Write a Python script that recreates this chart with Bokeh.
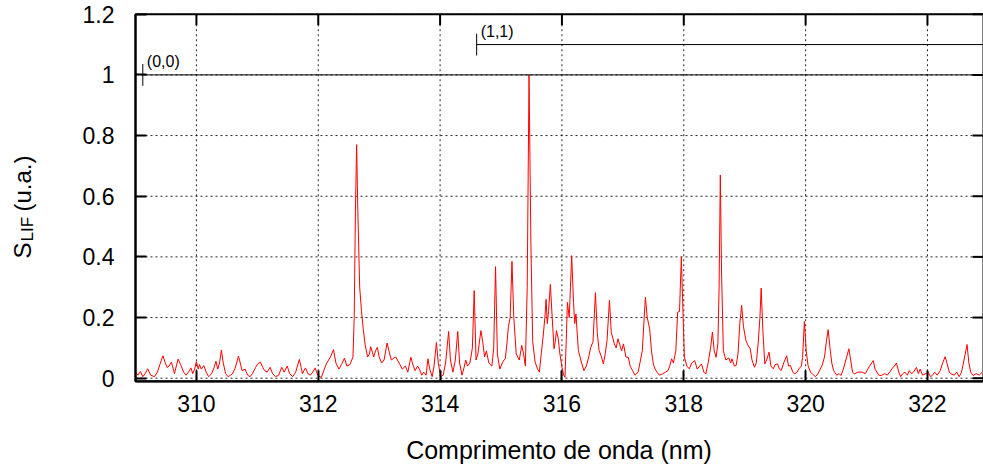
import math
from bokeh.plotting import figure
from bokeh.models import Range1d, FixedTicker, ColumnDataSource, Label, LinearAxis
from bokeh.embed import file_html
from bokeh.resources import INLINE
from bokeh.core.properties import value

# ---- data ----
wavelength = [
    309.00, 309.04, 309.08, 309.12, 309.16, 309.20, 309.25, 309.31, 309.36, 309.40,
    309.45, 309.49, 309.52, 309.55, 309.59, 309.62, 309.64, 309.67, 309.70, 309.74,
    309.79, 309.83, 309.87, 309.91, 309.94, 309.97, 310.00, 310.03, 310.05, 310.08,
    310.12, 310.16, 310.20, 310.25, 310.29, 310.32, 310.35, 310.38, 310.41, 310.44,
    310.48, 310.52, 310.56, 310.59, 310.63, 310.66, 310.69, 310.72, 310.75, 310.80,
    310.84, 310.88, 310.92, 310.97, 311.01, 311.05, 311.09, 311.12, 311.16, 311.21,
    311.25, 311.30, 311.35, 311.40, 311.44, 311.49, 311.53, 311.58, 311.63, 311.69,
    311.72, 311.74, 311.79, 311.83, 311.87, 311.91, 311.95, 311.99, 312.05, 312.10,
    312.14, 312.20, 312.25, 312.29, 312.34, 312.38, 312.43, 312.47, 312.52, 312.57,
    312.59, 312.61, 312.63, 312.65, 312.68, 312.71, 312.74, 312.77, 312.81, 312.84,
    312.86, 312.89, 312.91, 312.94, 312.97, 313.00, 313.04, 313.08, 313.13, 313.16,
    313.20, 313.23, 313.27, 313.30, 313.34, 313.38, 313.43, 313.47, 313.52, 313.56,
    313.59, 313.63, 313.66, 313.70, 313.73, 313.77, 313.80, 313.83, 313.87, 313.90,
    313.94, 313.97, 314.01, 314.05, 314.09, 314.14, 314.17, 314.21, 314.25, 314.29,
    314.32, 314.36, 314.40, 314.42, 314.45, 314.49, 314.53, 314.56, 314.59, 314.62,
    314.67, 314.70, 314.73, 314.76, 314.80, 314.85, 314.88, 314.91, 314.94, 314.98,
    315.02, 315.05, 315.07, 315.10, 315.12, 315.15, 315.18, 315.21, 315.25, 315.30,
    315.34, 315.37, 315.40, 315.43, 315.46, 315.49, 315.52, 315.56, 315.60, 315.63,
    315.66, 315.69, 315.72, 315.74, 315.76, 315.78, 315.81, 315.84, 315.87, 315.89,
    315.91, 315.94, 315.96, 316.00, 316.03, 316.05, 316.07, 316.09, 316.12, 316.14,
    316.16, 316.19, 316.21, 316.23, 316.27, 316.31, 316.36, 316.40, 316.44, 316.47,
    316.51, 316.55, 316.58, 316.61, 316.65, 316.68, 316.71, 316.74, 316.78, 316.81,
    316.84, 316.86, 316.89, 316.92, 316.95, 316.98, 317.01, 317.05, 317.09, 317.12,
    317.16, 317.20, 317.25, 317.28, 317.32, 317.35, 317.37, 317.40, 317.44, 317.47,
    317.50, 317.53, 317.56, 317.60, 317.65, 317.70, 317.74, 317.77, 317.80, 317.83,
    317.87, 317.90, 317.93, 317.96, 317.99, 318.01, 318.05, 318.09, 318.13, 318.18,
    318.22, 318.26, 318.29, 318.33, 318.36, 318.40, 318.44, 318.47, 318.50, 318.53,
    318.56, 318.58, 318.60, 318.62, 318.65, 318.69, 318.74, 318.77, 318.79, 318.83,
    318.86, 318.89, 318.92, 318.95, 318.98, 319.02, 319.05, 319.09, 319.12, 319.16,
    319.19, 319.22, 319.25, 319.27, 319.30, 319.33, 319.36, 319.40, 319.43, 319.47,
    319.50, 319.54, 319.57, 319.60, 319.64, 319.69, 319.72, 319.75, 319.79, 319.82,
    319.86, 319.89, 319.93, 319.95, 319.98, 320.01, 320.04, 320.08, 320.11, 320.16,
    320.20, 320.24, 320.27, 320.31, 320.34, 320.37, 320.40, 320.43, 320.46, 320.51,
    320.55, 320.58, 320.62, 320.66, 320.71, 320.74, 320.77, 320.80, 320.86, 320.93,
    320.98, 321.02, 321.05, 321.11, 321.14, 321.17, 321.20, 321.24, 321.30, 321.34,
    321.38, 321.43, 321.46, 321.49, 321.53, 321.56, 321.59, 321.63, 321.67, 321.70,
    321.74, 321.77, 321.82, 321.85, 321.88, 321.92, 321.96, 322.01, 322.05, 322.08,
    322.12, 322.16, 322.21, 322.25, 322.29, 322.32, 322.36, 322.39, 322.44, 322.48,
    322.52, 322.56, 322.59, 322.62, 322.65, 322.68, 322.71, 322.75, 322.80, 322.85,
    322.90,
]
intensity = [
    0.020, 0.010, 0.022, 0.005, 0.015, 0.031, 0.010, 0.005, 0.020, 0.045,
    0.074, 0.050, 0.035, 0.040, 0.053, 0.030, 0.015, 0.040, 0.063, 0.045,
    0.020, 0.010, 0.020, 0.034, 0.015, 0.030, 0.055, 0.030, 0.045, 0.030,
    0.042, 0.020, 0.005, 0.015, 0.035, 0.056, 0.030, 0.050, 0.093, 0.050,
    0.015, 0.005, 0.010, 0.014, 0.030, 0.050, 0.073, 0.050, 0.025, 0.030,
    0.010, 0.005, 0.015, 0.035, 0.048, 0.053, 0.035, 0.025, 0.020, 0.036,
    0.015, 0.005, 0.010, 0.036, 0.020, 0.040, 0.015, 0.005, 0.020, 0.062,
    0.035, 0.015, 0.034, 0.015, 0.010, 0.020, 0.034, 0.010, 0.002, 0.030,
    0.050, 0.070, 0.094, 0.050, 0.030, 0.045, 0.066, 0.040, 0.045, 0.070,
    0.200, 0.550, 0.770, 0.550, 0.300, 0.220, 0.160, 0.110, 0.070, 0.080,
    0.104, 0.085, 0.070, 0.090, 0.102, 0.070, 0.050, 0.060, 0.116, 0.090,
    0.060, 0.065, 0.070, 0.060, 0.045, 0.030, 0.040, 0.020, 0.069, 0.040,
    0.025, 0.040, 0.030, 0.010, 0.020, 0.010, 0.064, 0.030, 0.005, 0.040,
    0.118, 0.050, 0.005, 0.010, 0.050, 0.154, 0.060, 0.020, 0.060, 0.154,
    0.050, 0.010, 0.040, 0.060, 0.040, 0.050, 0.100, 0.289, 0.060, 0.080,
    0.157, 0.120, 0.070, 0.090, 0.050, 0.040, 0.100, 0.368, 0.080, 0.030,
    0.050, 0.060, 0.064, 0.120, 0.168, 0.200, 0.385, 0.200, 0.080, 0.060,
    0.108, 0.080, 0.040, 0.300, 1.000, 0.450, 0.120, 0.053, 0.030, 0.020,
    0.080, 0.135, 0.200, 0.260, 0.180, 0.220, 0.309, 0.200, 0.097, 0.120,
    0.157, 0.130, 0.090, 0.036, 0.010, 0.003, 0.120, 0.250, 0.200, 0.300,
    0.404, 0.250, 0.180, 0.212, 0.091, 0.060, 0.025, 0.040, 0.070, 0.100,
    0.120, 0.282, 0.150, 0.091, 0.070, 0.047, 0.080, 0.124, 0.257, 0.150,
    0.130, 0.113, 0.100, 0.130, 0.110, 0.090, 0.113, 0.070, 0.069, 0.040,
    0.025, 0.010, 0.020, 0.050, 0.091, 0.200, 0.267, 0.200, 0.163, 0.090,
    0.047, 0.030, 0.020, 0.010, 0.014, 0.020, 0.025, 0.040, 0.064, 0.050,
    0.091, 0.218, 0.220, 0.399, 0.200, 0.069, 0.040, 0.031, 0.050, 0.058,
    0.030, 0.040, 0.047, 0.020, 0.014, 0.050, 0.100, 0.152, 0.090, 0.069,
    0.113, 0.300, 0.670, 0.350, 0.091, 0.060, 0.067, 0.050, 0.064, 0.040,
    0.042, 0.080, 0.180, 0.240, 0.170, 0.124, 0.110, 0.097, 0.060, 0.036,
    0.050, 0.113, 0.200, 0.297, 0.150, 0.047, 0.060, 0.086, 0.040, 0.031,
    0.045, 0.047, 0.030, 0.025, 0.050, 0.074, 0.040, 0.042, 0.020, 0.014,
    0.020, 0.031, 0.040, 0.069, 0.187, 0.090, 0.042, 0.020, 0.014, 0.005,
    0.014, 0.030, 0.042, 0.070, 0.120, 0.160, 0.100, 0.050, 0.025, 0.010,
    0.015, 0.009, 0.030, 0.060, 0.097, 0.060, 0.020, 0.014, 0.020, 0.020,
    0.015, 0.030, 0.040, 0.058, 0.030, 0.020, 0.010, 0.009, 0.015, 0.010,
    0.020, 0.035, 0.040, 0.050, 0.020, 0.005, 0.014, 0.020, 0.010, 0.025,
    0.015, 0.020, 0.036, 0.015, 0.030, 0.010, 0.014, 0.020, 0.005, 0.009,
    0.020, 0.010, 0.025, 0.050, 0.071, 0.050, 0.020, 0.014, 0.010, 0.020,
    0.005, 0.020, 0.050, 0.080, 0.111, 0.050, 0.020, 0.009, 0.015, 0.010,
    0.020,
]

x_ticks = [310, 312, 314, 316, 318, 320, 322]
y_ticks = [0.0, 0.2, 0.4, 0.6, 0.8, 1.0, 1.2]
y_tick_labels = ["0", "0.2", "0.4", "0.6", "0.8", "1", "1.2"]

band_labels = ["(0,0)", "(1,1)"]
band_start = [309.12, 314.60]
band_level = [1.0, 1.1]
band_tick = 0.036

x_min, x_max = 309.0, 322.92
y_min, y_max = -0.01, 1.2

x_title = "Comprimento de onda (nm)"
y_title_main = "S"
y_title_sub = "LIF"
y_title_rest = "(u.a.)"

FONT = "Liberation Sans"
TICK_FS = "23px"

# ---- page geometry: the frame covers the whole page, the box is drawn inside ----
W, H = 983, 469
AXIS_X = 135          # page x of the left border (x = x_min)
Y0_PAGE = 377.7       # page y of the value 0
PX_UNIT = 303.3       # pixels per intensity unit
px_per_nm = (W - AXIS_X) / (x_max - x_min)
x_left = x_min - AXIS_X / px_per_nm
y_page_top = Y0_PAGE / PX_UNIT
y_page_bottom = -(H - Y0_PAGE) / PX_UNIT

def page_x(px):
    return x_left + px / px_per_nm

def page_y(py):
    return (Y0_PAGE - py) / PX_UNIT

p = figure(width=W, height=H, output_backend="svg", toolbar_location=None,
           x_range=Range1d(x_left, x_max), y_range=Range1d(y_page_bottom, y_page_top),
           x_axis_location=None, y_axis_location=None,
           min_border_left=0, min_border_right=0, min_border_top=0, min_border_bottom=0)
p.background_fill_color = "white"
p.border_fill_color = "white"
p.outline_line_color = None
p.grid.visible = False

# dotted grid restricted to the plotting box
p.segment(x0=x_ticks, y0=[y_min] * len(x_ticks), x1=x_ticks, y1=[y_max] * len(x_ticks),
          line_color="black", line_dash="2 3", line_width=1, line_alpha=0.85)
p.segment(x0=[x_min] * len(y_ticks), y0=y_ticks, x1=[x_max] * len(y_ticks), y1=y_ticks,
          line_color="black", line_dash="2 3", line_width=1, line_alpha=0.85)

def style_axis(ax):
    ax.major_tick_in = 11
    ax.major_tick_out = 0
    ax.minor_tick_in = 0
    ax.minor_tick_out = 0
    ax.major_tick_line_width = 2
    ax.major_tick_line_color = "black"
    ax.axis_line_color = "black"
    ax.axis_line_width = 2
    ax.major_label_text_font = FONT
    ax.major_label_text_font_size = TICK_FS
    ax.major_label_text_color = "black"

xa = LinearAxis(ticker=FixedTicker(ticks=x_ticks), fixed_location=y_min,
                bounds=(x_min, x_max))
style_axis(xa)
xa.major_label_standoff = 14
p.add_layout(xa, "below")

ya = LinearAxis(ticker=FixedTicker(ticks=y_ticks), fixed_location=x_min,
                bounds=(y_min, y_max))
style_axis(ya)
ya.major_label_overrides = {t: s for t, s in zip(y_ticks, y_tick_labels)}
ya.major_label_standoff = 21
p.add_layout(ya, "left")

# border box
p.quad(left=[x_min], right=[x_max], bottom=[y_min], top=[y_max],
       fill_color=None, line_color="black", line_width=2)

# mirrored inward ticks on the top and right borders
tick_len_y = 11 / PX_UNIT
tick_len_x = 11 / px_per_nm
p.segment(x0=x_ticks, y0=[y_max] * len(x_ticks), x1=x_ticks,
          y1=[y_max - tick_len_y] * len(x_ticks), line_color="black", line_width=2)
p.segment(x0=[x_max] * len(y_ticks), y0=y_ticks, x1=[x_max - tick_len_x] * len(y_ticks),
          y1=y_ticks, line_color="black", line_width=2)

# spectrum
src = ColumnDataSource(data=dict(x=wavelength, y=intensity))
p.line("x", "y", source=src, line_color="#ff0000", line_width=1)

# band progression markers
bsrc = ColumnDataSource(data=dict(
    x0=band_start, x1=[x_max] * len(band_start), y=band_level,
    ylo=[v - band_tick for v in band_level], yhi=[v + band_tick for v in band_level],
    label=band_labels))
p.segment(x0="x0", y0="y", x1="x1", y1="y", source=bsrc, line_color="black", line_width=1)
p.segment(x0="x0", y0="ylo", x1="x0", y1="yhi", source=bsrc, line_color="black", line_width=1)
p.text(x="x0", y="y", text="label", source=bsrc, x_offset=4, y_offset=-5,
       text_font=value(FONT), text_font_size="16px", text_color="black",
       text_baseline="bottom", text_align="left")

# x title (centred under the box)
p.add_layout(Label(x=page_x((AXIS_X + W) / 2 - 0.5), y=page_y(449), text=x_title,
                   text_font=FONT, text_font_size="25px", text_color="black",
                   text_align="center", text_baseline="middle"))

# rotated y title with subscript
def ylab(text, cx, start_y, size):
    # cx: page x of the text centre line, start_y: page y where the text begins
    p.add_layout(Label(x=page_x(cx), y=page_y(start_y), text=text,
                       angle=90, angle_units="deg", text_font=FONT,
                       text_font_size=size, text_color="black",
                       text_align="left", text_baseline="middle"))

ylab(y_title_main, 22, 258, "24px")
ylab(y_title_sub, 27, 241, "17px")
ylab(y_title_rest, 22, 211, "24px")

open("out.html", "w").write(file_html(p, INLINE))
